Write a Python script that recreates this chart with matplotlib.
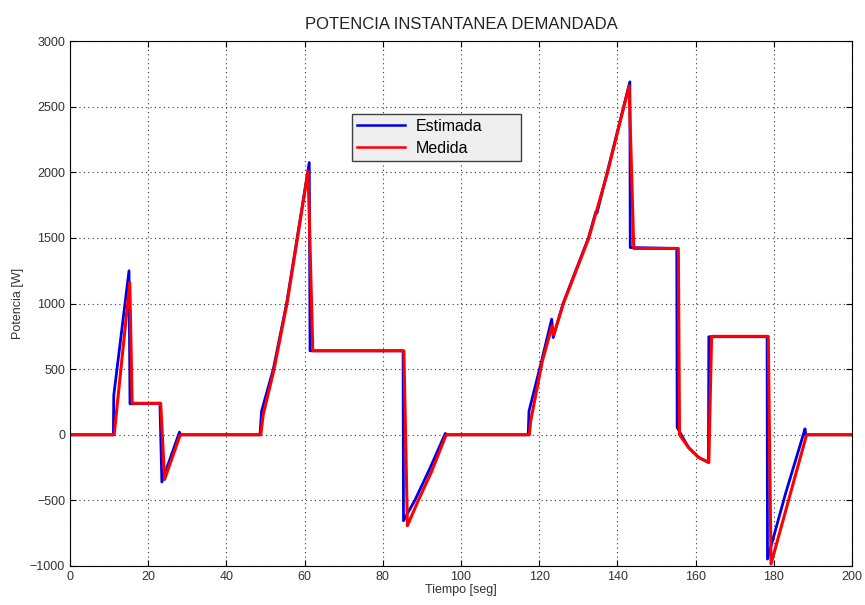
import matplotlib.pyplot as plt

plt.rcParams['font.family'] = ['Liberation Sans', 'DejaVu Sans']

# potencia estimada (azul)
t_est = [0, 11.1, 11.2, 15.1, 15.35, 23.0, 23.5, 28.0, 28.3,
         48.6, 49.0, 52.0, 55.4, 58.1, 61.2, 61.4, 85.2, 85.3, 88.2, 92.0, 96.0, 96.3,
         117.2, 117.4, 120.6, 123.2, 123.6, 126.1, 132.6, 134.5, 134.8, 137.4, 143.2, 143.3,
         155.2, 155.3, 158.2, 160.8, 163.3, 163.4, 178.3, 178.4, 183.0, 188.0, 188.2, 200]
p_est = [0, 0, 300, 1250, 236, 240, -360, 20, 0,
         0, 180, 500, 1000, 1500, 2075, 640, 640, -655, -500, -260, 10, 0,
         0, 180, 560, 881, 741, 1000, 1500, 1700, 1690, 2000, 2690, 1427,
         1420, 56, -97, -173, -211, 747, 747, -947, -450, 45, 0, 0]

# potencia medida (rojo)
t_med = [0, 11.3, 15.3, 15.9, 23.2, 24.2, 28.2,
         48.8, 49.4, 52.2, 55.5, 58.2, 60.9, 62.1, 85.4, 86.3, 89.1, 92.5, 96.2,
         117.5, 117.8, 120.8, 123.3, 123.7, 126.2, 132.7, 137.5, 143.0, 144.2,
         155.6, 155.9, 158.2, 160.8, 163.4, 164.1, 178.6, 179.3, 188.4, 200]
p_med = [0, 0, 1160, 240, 240, -340, 0,
         0, 150, 500, 1000, 1500, 2011, 640, 640, -693, -500, -280, 0,
         0, 100, 560, 830, 760, 1000, 1500, 2000, 2659, 1420,
         1420, 0, -97, -173, -211, 750, 750, -985, 0, 0]

x_ticks = list(range(0, 201, 20))
y_ticks = list(range(-1000, 3001, 500))

fig = plt.figure(figsize=(8.65, 6.05), dpi=100)
ax = fig.add_axes([0.0809, 0.0645, 0.904, 0.8675])

ax.plot(t_est, p_est, color='#0000e6', linewidth=2.0, label='Estimada')
ax.plot(t_med, p_med, color='#ff0000', linewidth=2.2, label='Medida')

ax.set_xlim(0, 200)
ax.set_ylim(-1000, 3000)
ax.set_xticks(x_ticks)
ax.set_yticks(y_ticks)
ax.tick_params(direction='in', top=True, right=True, labelsize=9, length=4,
               labelcolor='#333333')
ax.grid(True, linestyle=(0, (1, 3)), color='#333333', linewidth=0.8)

ax.set_title('POTENCIA INSTANTANEA DEMANDADA', fontsize=12, pad=9, color='#222222')
ax.set_xlabel('Tiempo [seg]', fontsize=9, labelpad=1, color='#333333')
ax.set_ylabel('Potencia [W]', fontsize=9, labelpad=4, color='#333333')

leg = ax.legend(loc='upper left', bbox_to_anchor=(0.361, 0.768, 0.216, 0.093),
                mode='expand', fontsize=11.5, fancybox=False, framealpha=1,
                borderaxespad=0, handlelength=3.0, borderpad=0.3, labelspacing=0.45,
                handletextpad=0.7)
leg.get_frame().set_facecolor('#efefef')
leg.get_frame().set_edgecolor('#404040')
for line in leg.get_lines():
    line.set_linewidth(1.8)

fig.savefig('out.png', dpi=100)
